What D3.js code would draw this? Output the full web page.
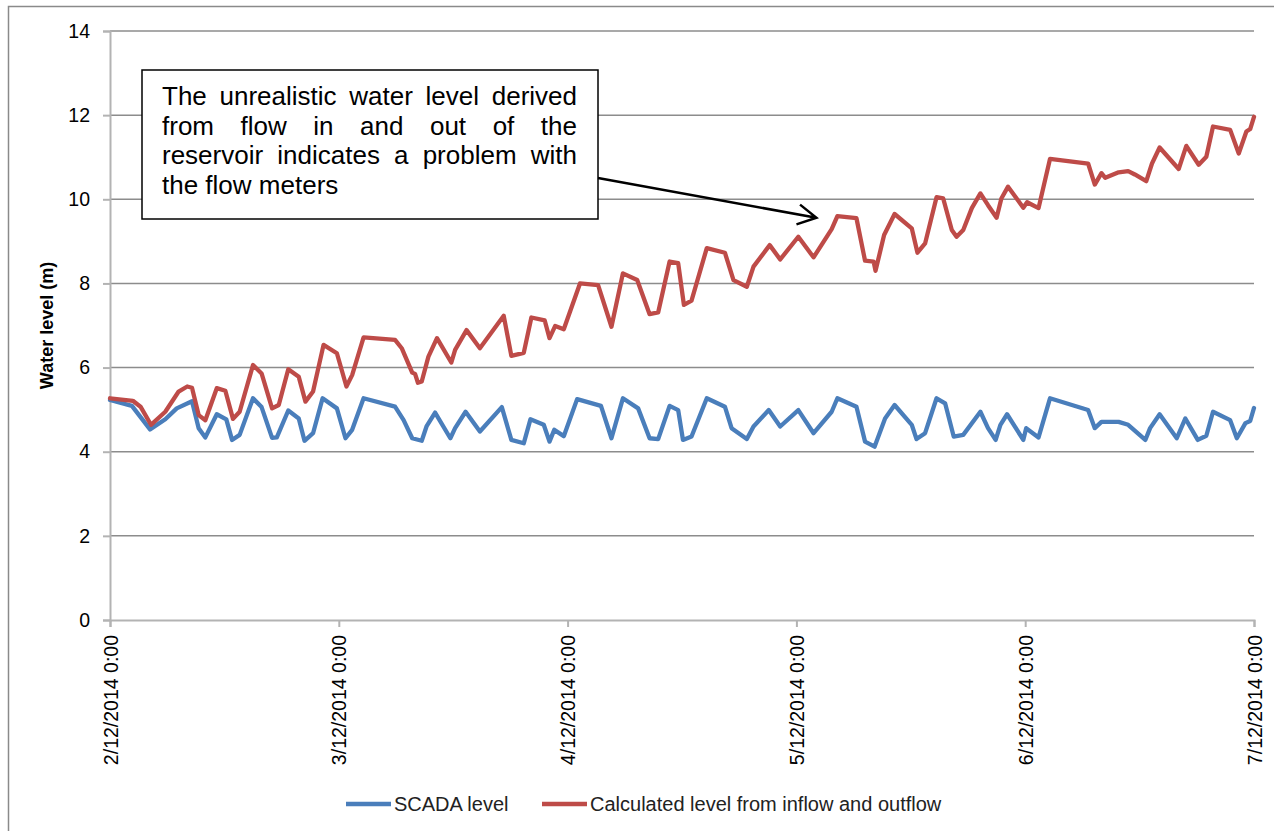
<!DOCTYPE html>
<html>
<head>
<meta charset="utf-8">
<script src="https://cdn.jsdelivr.net/npm/d3@7"></script>
<style>
    body { margin: 0; background: #fff; }
    svg { display: block; font-family: "Liberation Sans", Arial, sans-serif; }
</style>
</head>
<body>
<svg></svg>
<script>
var width = 1274;
var height = 831;

// hours after 2/12/2014 0:00
var scadaHours = [0, 2.3, 4.2, 5.8, 7.0, 8.6, 9.3, 10.0, 11.2, 12.2, 12.8, 13.6, 15.0, 15.9, 17.0, 17.5, 18.7, 19.8, 20.4, 21.3,
    22.3, 23.8, 24.7, 25.4, 26.6, 29.9, 30.8, 31.7, 32.7, 33.2, 34.1, 35.7, 36.2, 37.3, 38.8, 41.1, 42.1, 43.4, 44.1, 45.5,
    46.1, 46.6, 47.6, 49.0, 51.5, 52.6, 53.8, 55.4, 56.6, 57.5, 58.7, 59.6, 60.1, 61.0, 62.6, 64.5, 65.2, 66.8, 67.5, 69.1,
    70.3, 72.2, 73.8, 75.7, 76.3, 78.3, 79.2, 80.2, 81.3, 82.3, 84.1, 84.6, 85.5, 86.7, 87.6, 88.5, 89.5, 91.3, 92.1, 92.9,
    93.4, 94.1, 95.8, 96.1, 97.4, 98.6, 102.6, 103.3, 104.0, 105.8, 106.8, 108.6, 109.1, 110.1, 111.9, 112.8, 114.1, 115.0,
    115.7, 117.5, 118.2, 119.1, 119.6, 120];
var scadaLevel = [5.23, 5.09, 4.53, 4.77, 5.03, 5.20, 4.56, 4.34, 4.89, 4.77, 4.28, 4.40, 5.27, 5.06, 4.33, 4.34, 4.98, 4.79, 4.26, 4.44,
    5.27, 5.03, 4.32, 4.52, 5.27, 5.07, 4.75, 4.32, 4.26, 4.60, 4.93, 4.32, 4.56, 4.95, 4.48, 5.06, 4.28, 4.20, 4.77, 4.64,
    4.24, 4.52, 4.37, 5.25, 5.09, 4.32, 5.27, 5.03, 4.32, 4.30, 5.09, 4.99, 4.28, 4.36, 5.27, 5.07, 4.56, 4.30, 4.60, 4.99,
    4.60, 4.99, 4.44, 4.95, 5.27, 5.07, 4.24, 4.12, 4.79, 5.11, 4.64, 4.30, 4.44, 5.27, 5.15, 4.36, 4.40, 4.95, 4.56, 4.28,
    4.64, 4.89, 4.28, 4.56, 4.34, 5.27, 4.99, 4.56, 4.71, 4.71, 4.64, 4.28, 4.56, 4.89, 4.32, 4.79, 4.28, 4.38,
    4.95, 4.75, 4.32, 4.68, 4.73, 5.04];

var calcHours = [0, 2.4, 3.2, 4.3, 5.8, 7.2, 8.1, 8.6, 9.3, 10.0, 11.2, 12.1, 12.9, 13.6, 15.0, 15.9, 17.0, 17.7, 18.7, 19.8,
    20.5, 21.3, 22.4, 23.8, 24.8, 25.4, 26.6, 29.9, 30.6, 31.7, 32.0, 32.3, 32.7, 33.4, 34.3, 35.8, 36.2, 37.4, 38.8, 41.3,
    42.1, 43.4, 44.2, 45.6, 46.1, 46.7, 47.6, 49.3, 51.2, 52.6, 53.8, 55.3, 56.6, 57.5, 58.7, 59.6, 60.2, 61.0, 62.6, 64.5,
    65.4, 66.8, 67.5, 69.2, 70.3, 72.2, 73.8, 75.7, 76.3, 78.3, 79.2, 80.1, 80.3, 81.2, 82.3, 84.1, 84.7, 85.5, 86.7, 87.4,
    88.3, 88.8, 89.5, 90.4, 91.3, 92.1, 93.0, 93.5, 94.2, 95.8, 96.2, 97.4, 98.6, 102.6, 103.3, 104.0, 104.4, 105.8, 106.8, 107.5,
    108.7, 109.3, 110.1, 112.1, 112.9, 114.2, 115.0, 115.7, 117.5, 118.4, 119.2, 119.6, 120];
var calcLevel = [5.27, 5.21, 5.07, 4.64, 4.95, 5.43, 5.55, 5.52, 4.87, 4.75, 5.51, 5.45, 4.78, 4.95, 6.06, 5.86, 5.03, 5.11, 5.96, 5.78,
    5.19, 5.43, 6.54, 6.34, 5.55, 5.82, 6.72, 6.66, 6.46, 5.88, 5.85, 5.64, 5.67, 6.26, 6.70, 6.12, 6.42, 6.89, 6.46, 7.23,
    6.28, 6.35, 7.19, 7.12, 6.70, 6.99, 6.91, 8.00, 7.96, 6.97, 8.24, 8.08, 7.27, 7.31, 8.52, 8.48, 7.49, 7.59, 8.84, 8.73,
    8.08, 7.92, 8.40, 8.91, 8.57, 9.11, 8.62, 9.29, 9.60, 9.55, 8.54, 8.52, 8.30, 9.15, 9.65, 9.31, 8.73, 8.95, 10.05, 10.02,
    9.27, 9.11, 9.27, 9.79, 10.14, 9.86, 9.56, 10.02, 10.30, 9.80, 9.93, 9.79, 10.96, 10.85, 10.35, 10.62, 10.51, 10.64, 10.67, 10.59,
    10.43, 10.85, 11.23, 10.72, 11.27, 10.82, 11.01, 11.73, 11.65, 11.09, 11.61, 11.67, 11.96];

var yTicks = [0, 2, 4, 6, 8, 10, 12, 14];
var seriesNames = ["SCADA level", "Calculated level from inflow and outflow"];
var seriesColors = ["#4a7ebb", "#be4b48"];
var noteLines = [
    "The unrealistic water level derived",
    "from flow in and out of the",
    "reservoir indicates a problem with",
    "the flow meters"
];
// point the arrow lands on (hours, level)
var notePoint = [74.1, 9.56];

var start = new Date(2014, 11, 2, 0, 0);
function toDate(h) {
    return new Date(start.getTime() + h * 3600 * 1000);
}

var margin = { left: 110, right: 20, top: 31, bottom: 211 };

var svg = d3.select("svg")
    .attr("width", width)
    .attr("height", height);

// outer chart frame (clipped on right/bottom like the original)
svg.append("rect")
    .attr("x", 8.5)
    .attr("y", 6.5)
    .attr("width", 1400)
    .attr("height", 1000)
    .attr("fill", "none")
    .attr("stroke", "#8a8a8a")
    .attr("stroke-width", 1.5);

var x = d3.scaleTime()
    .domain([start, toDate(120)])
    .range([margin.left, width - margin.right]);

var y = d3.scaleLinear()
    .domain([0, 14])
    .range([height - margin.bottom, margin.top]);

// gridlines
svg.append("g")
    .selectAll("line")
    .data(yTicks.filter(function (d) { return d > 0; }))
    .enter()
    .append("line")
    .attr("x1", margin.left)
    .attr("x2", width - margin.right)
    .attr("y1", function (d) { return y(d); })
    .attr("y2", function (d) { return y(d); })
    .attr("stroke", "#8c8c8c")
    .attr("stroke-width", 1.5);

var yAxis = svg.append("g")
    .attr("transform", "translate(" + margin.left + ",0)")
    .call(d3.axisLeft(y).tickValues(yTicks).tickSize(7).tickPadding(13).tickFormat(d3.format("d")));

var xAxis = svg.append("g")
    .attr("transform", "translate(0," + y(0) + ")")
    .call(d3.axisBottom(x).ticks(d3.timeDay.every(1)).tickSize(7)
        .tickFormat(d3.timeFormat("%-d/%-m/%Y %-H:%M")));

[yAxis, xAxis].forEach(function (a) {
    a.select(".domain").attr("stroke", "#b3b3b3").attr("stroke-width", 2);
    a.selectAll(".tick line").attr("stroke", "#b3b3b3").attr("stroke-width", 2);
    a.selectAll("text")
        .attr("fill", "#000")
        .style("font-size", "19.5px")
        .style("font-family", "'Liberation Sans', Arial, sans-serif");
});

xAxis.selectAll("text")
    .attr("transform", "rotate(-90)")
    .attr("text-anchor", "end")
    .attr("x", -15)
    .attr("y", 0)
    .attr("dy", "0.36em");

svg.append("text")
    .attr("transform", "translate(53," + y(7) + ")rotate(-90)")
    .attr("text-anchor", "middle")
    .style("font-size", "18px")
    .style("font-weight", "bold")
    .text("Water level (m)");

// series
var series = [
    d3.zip(scadaHours, scadaLevel),
    d3.zip(calcHours, calcLevel)
];

var line = d3.line()
    .x(function (d) { return x(toDate(d[0])); })
    .y(function (d) { return y(d[1]); });

svg.append("g")
    .selectAll("path")
    .data(series)
    .enter()
    .append("path")
    .attr("d", line)
    .attr("fill", "none")
    .attr("stroke", function (d, i) { return seriesColors[i]; })
    .attr("stroke-width", 4.3)
    .attr("stroke-linejoin", "round")
    .attr("stroke-linecap", "round");

// legend
var legendX = [346, 542];
var legend = svg.append("g")
    .selectAll("g")
    .data(seriesNames)
    .enter()
    .append("g")
    .attr("transform", function (d, i) { return "translate(" + legendX[i] + ",804)"; });

legend.append("line")
    .attr("x1", 0)
    .attr("x2", 45)
    .attr("stroke", function (d, i) { return seriesColors[i]; })
    .attr("stroke-width", 4.5);

legend.append("text")
    .attr("x", 48)
    .attr("dy", "0.35em")
    .style("font-size", "20px")
    .attr("fill", "#222")
    .text(function (d) { return d; });

// annotation box
var box = { x: 142, y: 70, w: 456, h: 149 };
var note = svg.append("g");

note.append("rect")
    .attr("x", box.x)
    .attr("y", box.y)
    .attr("width", box.w)
    .attr("height", box.h)
    .attr("fill", "#fff")
    .attr("stroke", "#000")
    .attr("stroke-width", 1.5);

var textLeft = box.x + 20;
var textRight = box.x + box.w - 21;
noteLines.forEach(function (str, i) {
    var t = note.append("text")
        .attr("y", box.y + 35 + i * 29.5)
        .style("font-size", "26px")
        .attr("fill", "#000");
    if (i === noteLines.length - 1) {
        t.attr("x", textLeft).text(str);
        return;
    }
    // justified line
    var words = str.split(" ");
    var spans = words.map(function (w) {
        return t.append("tspan").text(w);
    });
    var widths = spans.map(function (s) { return s.node().getComputedTextLength(); });
    var gap = (textRight - textLeft - d3.sum(widths)) / (words.length - 1);
    var cx = textLeft;
    spans.forEach(function (s, k) {
        s.attr("x", cx);
        cx += widths[k] + gap;
    });
});

// arrow
var tip = [x(toDate(notePoint[0])), y(notePoint[1])];
var tail = [box.x + box.w, 178];
var ang = Math.atan2(tip[1] - tail[1], tip[0] - tail[0]);
var headLen = 21, headAng = 28.5 * Math.PI / 180;
var h1 = [tip[0] - headLen * Math.cos(ang - headAng), tip[1] - headLen * Math.sin(ang - headAng)];
var h2 = [tip[0] - headLen * Math.cos(ang + headAng), tip[1] - headLen * Math.sin(ang + headAng)];

note.append("path")
    .attr("d", "M" + tail + "L" + tip + "M" + h1 + "L" + tip + "L" + h2)
    .attr("fill", "none")
    .attr("stroke", "#000")
    .attr("stroke-width", 2.5);
</script>
</body>
</html>
